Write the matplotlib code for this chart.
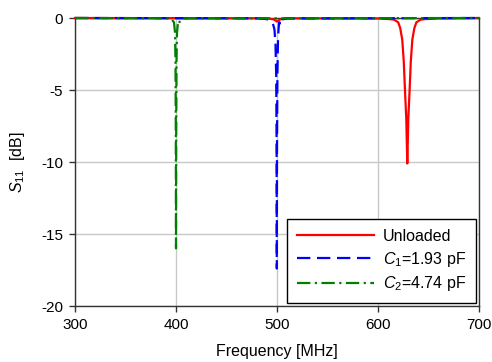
import matplotlib
matplotlib.use("Agg")
from matplotlib import pyplot as plt

plt.rcParams['font.family'] = ['Liberation Sans', 'DejaVu Sans']
plt.rcParams['mathtext.fontset'] = 'custom'
plt.rcParams['mathtext.rm'] = 'Liberation Sans'
plt.rcParams['mathtext.it'] = 'Liberation Sans:italic'
plt.rcParams['axes.unicode_minus'] = False

# unloaded resonator
f_unl = [300, 490, 497, 500, 503, 510, 600, 612, 616, 620, 622, 624, 625.5, 626.7, 628, 629,
         630, 631.3, 632.5, 634, 636, 638, 642, 646, 660, 700]
s_unl = [0, -0.02, -0.1, -0.25, -0.1, -0.02, -0.03, -0.08, -0.12, -0.3, -0.7, -1.5, -3.0, -5.0, -7.0, -10.1,
         -7.0, -5.0, -3.0, -1.5, -0.7, -0.3, -0.12, -0.08, -0.03, 0]

# loaded with C1
f_c1 = [300, 480, 490, 494, 496, 497.5, 498.5, 499.2, 499.6, 499.8, 500.0, 500.4, 501, 501.5,
        502, 502.5, 503, 503.5, 505, 510, 700]
s_c1 = [0, -0.02, -0.08, -0.2, -0.4, -0.8, -1.8, -4, -9, -17.4, -9, -4, -1.5, -0.8,
        -0.4, -0.3, -0.5, -0.3, -0.1, -0.03, 0]

# loaded with C2
f_c2 = [300, 390, 395, 398, 399, 399.5, 399.8, 400, 400.2, 400.5, 401, 402, 403, 404, 408, 700]
s_c2 = [0, -0.02, -0.05, -0.3, -1.0, -3, -8, -16, -8, -3, -1.0, -0.3, -0.4, -0.15, -0.03, 0]

fig = plt.figure(figsize=(4.92, 3.62), dpi=100)
ax = fig.add_axes([75/492, 1 - 306/362, (479-75)/492, (306-18)/362])

ax.plot(f_unl, s_unl, color='red', lw=1.6, label='Unloaded', clip_on=False, zorder=3)
ax.plot(f_c1, s_c1, color='blue', lw=1.6, dashes=(6, 3), label='$C_1$=1.93 pF', clip_on=False, zorder=4)
ax.plot(f_c2, s_c2, color='green', lw=1.6, dashes=(6, 2, 1, 2), label='$C_2$=4.74 pF', clip_on=False, zorder=5)

ax.set_xlim(300, 700)
ax.set_ylim(-20, 0)
ax.set_xticks([300, 400, 500, 600, 700])
ax.set_yticks([0, -5, -10, -15, -20])
ax.grid(True, color='#c8c8c8', lw=1)
ax.set_axisbelow(True)
for s in ax.spines.values():
    s.set_color('#333333')
    s.set_linewidth(1)
ax.tick_params(direction='out', length=4.5, width=1, color='#333333', labelsize=11, pad=4)

ax.set_xlabel('Frequency [MHz]', fontsize=11.5, labelpad=9)
ax.set_ylabel('$S_{11}$  [dB]', fontsize=11.5, labelpad=10)

leg = ax.legend(loc='lower right', fontsize=11.5, handlelength=4.8, frameon=True, fancybox=False,
                edgecolor='black', framealpha=1, borderaxespad=0.2, labelspacing=0.35,
                handletextpad=0.6, borderpad=0.6)
leg.get_frame().set_linewidth(1)

fig.savefig('out.png', dpi=100)
